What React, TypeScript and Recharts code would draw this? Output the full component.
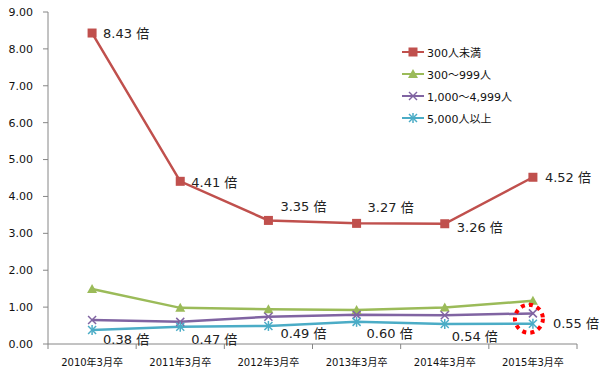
import React from 'react';
import { LineChart, Line, XAxis, YAxis, LabelList } from 'recharts';

const categories = ['2010年3月卒', '2011年3月卒', '2012年3月卒', '2013年3月卒', '2014年3月卒', '2015年3月卒'];
const under300 = [8.43, 4.41, 3.35, 3.27, 3.26, 4.52];
const from300to999 = [1.49, 0.98, 0.94, 0.92, 0.99, 1.17];
const from1000to4999 = [0.65, 0.6, 0.74, 0.79, 0.78, 0.83];
const over5000 = [0.38, 0.47, 0.49, 0.6, 0.54, 0.55];
const yTicks = [0, 1, 2, 3, 4, 5, 6, 7, 8, 9];
const seriesNames = ['300人未満', '300～999人', '1,000～4,999人', '5,000人以上'];
const highlightIndex = 5;

const RED = '#C0504D';
const GREEN = '#9BBB59';
const PURPLE = '#8064A2';
const CYAN = '#4BACC6';
const AXIS = '#868686';
const FONT = "'DejaVu Sans', 'Noto Sans CJK JP', sans-serif";

const data = categories.map((c, i) => ({
  cat: c,
  a: under300[i],
  b: from300to999[i],
  c: from1000to4999[i],
  d: over5000[i],
}));

// label offsets (dx, dy) relative to each point
const redOffsets = [[11, 0], [11, 1], [12, -14], [11, -16], [12, 4], [12, 0]];
const cyanOffsets = [[11, 10], [11, 13], [12, 8], [10, 12], [7, 12], [20, 0]];

const marker = (kind: string, cx: number, cy: number, key?: any) => {
  if (kind === 'square') return <rect key={key} x={cx - 4.5} y={cy - 4.5} width={9} height={9} fill={RED} />;
  if (kind === 'triangle')
    return <polygon key={key} points={`${cx},${cy - 5} ${cx - 5},${cy + 4} ${cx + 5},${cy + 4}`} fill={GREEN} />;
  if (kind === 'x')
    return (
      <g key={key} stroke={PURPLE} strokeWidth={1.5}>
        <line x1={cx - 4} y1={cy - 4} x2={cx + 4} y2={cy + 4} />
        <line x1={cx - 4} y1={cy + 4} x2={cx + 4} y2={cy - 4} />
      </g>
    );
  return (
    <g key={key} stroke={CYAN} strokeWidth={1.5}>
      <line x1={cx - 4} y1={cy - 4} x2={cx + 4} y2={cy + 4} />
      <line x1={cx - 4} y1={cy + 4} x2={cx + 4} y2={cy - 4} />
      <line x1={cx} y1={cy - 5} x2={cx} y2={cy + 5} />
    </g>
  );
};

const dotFor = (kind: string) => (props: any) => marker(kind, props.cx, props.cy, props.key ?? `${kind}-${props.index}`);

const cyanDot = (props: any) => (
  <g key={`cy-${props.index}`}>
    {marker('asterisk', props.cx, props.cy)}
    {props.index === highlightIndex && (
      <circle cx={props.cx - 4} cy={props.cy - 5} r={14} fill="none" stroke="#FF0000" strokeWidth={4} strokeDasharray="4 4.2" />
    )}
  </g>
);

const makeLabel = (offsets: number[][]) => (props: any) => {
  const { x, y, index, value } = props;
  const [dx, dy] = offsets[index];
  return (
    <text x={x + dx} y={y + dy} dominantBaseline="central" fontSize={13} fill="#222" fontFamily={FONT}>
      {Number(value).toFixed(2)} 倍
    </text>
  );
};

const HALF = (577 - 48) / 12;

const XTick = (props: any) => {
  const { x, y, payload, index } = props;
  return (
    <g>
      <line x1={x - HALF} y1={y} x2={x - HALF} y2={y + 5} stroke={AXIS} />
      {index === categories.length - 1 && <line x1={x + HALF} y1={y} x2={x + HALF} y2={y + 5} stroke={AXIS} />}
      <text x={x} y={y + 18} textAnchor="middle" dominantBaseline="central" fontSize={10} fill="#111" fontFamily={FONT}>
        {payload.value}
      </text>
    </g>
  );
};

const legendKinds = ['square', 'triangle', 'x', 'asterisk'];
const legendColors = [RED, GREEN, PURPLE, CYAN];

const LegendBox = () => (
  <div style={{ position: 'absolute', left: 402, top: 41, fontFamily: FONT, fontSize: 11, color: '#111' }}>
    {seriesNames.map((n, i) => (
      <div key={n} style={{ display: 'flex', alignItems: 'center', height: 22, whiteSpace: 'nowrap' }}>
        <svg width={24} height={12} style={{ display: 'block' }}>
          <line x1={0} y1={6} x2={22} y2={6} stroke={legendColors[i]} strokeWidth={2} />
          {marker(legendKinds[i], 11, 6)}
        </svg>
        <span style={{ marginLeft: 1 }}>{n}</span>
      </div>
    ))}
  </div>
);

export default function App() {
  return (
    <div style={{ position: 'absolute', left: 0, top: 0, width: 602, height: 377, background: '#fff' }}>
      <LineChart width={602} height={377} data={data} margin={{ top: 12, right: 25, left: 0, bottom: 0 }}>
        <XAxis
          dataKey="cat"
          padding={{ left: HALF, right: HALF }}
          stroke={AXIS}
          tickLine={false}
          tickSize={0}
          tickMargin={0}
          height={33}
          interval={0}
          tick={<XTick />}
        />
        <YAxis
          domain={[0, 9]}
          ticks={yTicks}
          width={48}
          stroke={AXIS}
          tickSize={5}
          tickMargin={10}
          tickFormatter={(v: number) => v.toFixed(2)}
          tick={{ fontSize: 11, fill: '#111', fontFamily: FONT }}
          interval={0}
        />
        <Line dataKey="b" stroke={GREEN} strokeWidth={2.5} dot={dotFor('triangle')} isAnimationActive={false} />
        <Line dataKey="c" stroke={PURPLE} strokeWidth={2.5} dot={dotFor('x')} isAnimationActive={false} />
        <Line dataKey="d" stroke={CYAN} strokeWidth={2.5} dot={cyanDot} isAnimationActive={false}>
          <LabelList dataKey="d" content={makeLabel(cyanOffsets)} />
        </Line>
        <Line dataKey="a" stroke={RED} strokeWidth={2.5} dot={dotFor('square')} isAnimationActive={false}>
          <LabelList dataKey="a" content={makeLabel(redOffsets)} />
        </Line>
      </LineChart>
      <LegendBox />
    </div>
  );
}
